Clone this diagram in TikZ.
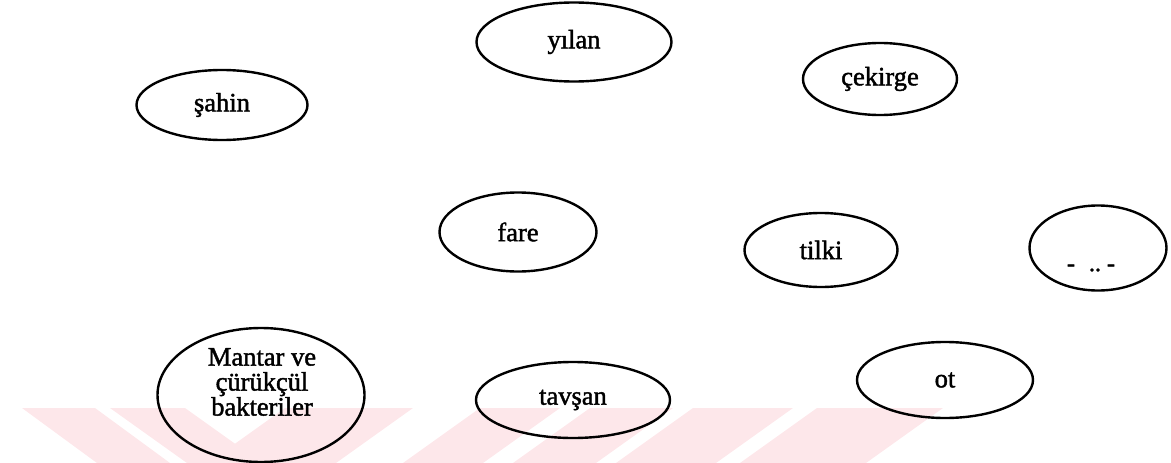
\documentclass[tikz,border=0pt]{standalone}
\usepackage{fontspec}
\setmainfont{Liberation Serif}[FakeBold=1.6]
\usetikzlibrary{shapes.geometric}
\definecolor{wmpink}{RGB}{253,231,234}
\tikzset{
  oval/.style={draw=black, line width=2.4pt, ellipse, inner sep=0pt, align=center,
    font=\fontsize{26.5}{25}\selectfont},
  lbl/.style={inner sep=0pt, align=center, font=\fontsize{26.5}{25}\selectfont},
  wm/.style={fill=wmpink, draw=none},
  dotslabel/.style={font=\fontsize{24}{25}\selectfont, inner sep=0pt}
}
\begin{document}
\begin{tikzpicture}[x=1pt,y=-1pt]
\useasboundingbox (0,0) rectangle (1171,463);
% watermark stripes
\fill[wm] (22,408) -- (95,408) -- (170,463) -- (97,463) -- cycle;
\fill[wm] (110,408) -- (185,408) -- (262,463) -- (187,463) -- cycle;
\fill[wm] (285,408) -- (413,408) -- (336,463) -- (208,463) -- cycle;
\fill[wm] (480,408) -- (560,408) -- (483,463) -- (403,463) -- cycle;
\fill[wm] (590,408) -- (673,408) -- (596,463) -- (513,463) -- cycle;
\fill[wm] (693,408) -- (793,408) -- (716,463) -- (616,463) -- cycle;
\fill[wm] (817,408) -- (943,408) -- (866,463) -- (740,463) -- cycle;
% nodes
\node[oval, minimum width=171pt, minimum height=70pt] (sahin) at (222,105) {şahin};
\node[oval, minimum width=195pt, minimum height=79pt] (yilan) at (574,42) {yılan};
\node[oval, minimum width=154pt, minimum height=72pt] (cekirge) at (880,79) {çekirge};
\node[oval, minimum width=157pt, minimum height=79pt] (fare) at (518,232) {fare};
\node[oval, minimum width=153pt, minimum height=74pt] (tilki) at (821,250) {tilki};
\node[oval, minimum width=137pt, minimum height=85pt] (bos) at (1098,248) {};
\node[dotslabel] (dots) at (1091,268) {-\hspace{14pt}..\hspace{6pt}-};
\node[oval, minimum width=207pt, minimum height=134pt] (mantar) at (261,395) {};
\node[lbl] (mantarlbl) at (262,382) {Mantar ve\\çürükçül\\bakteriler};
\node[oval, minimum width=194pt, minimum height=76pt] (tavsan) at (573,400) {tavşan};
\node[oval, minimum width=176pt, minimum height=76pt] (ot) at (945,380) {ot};
\end{tikzpicture}
\end{document}
